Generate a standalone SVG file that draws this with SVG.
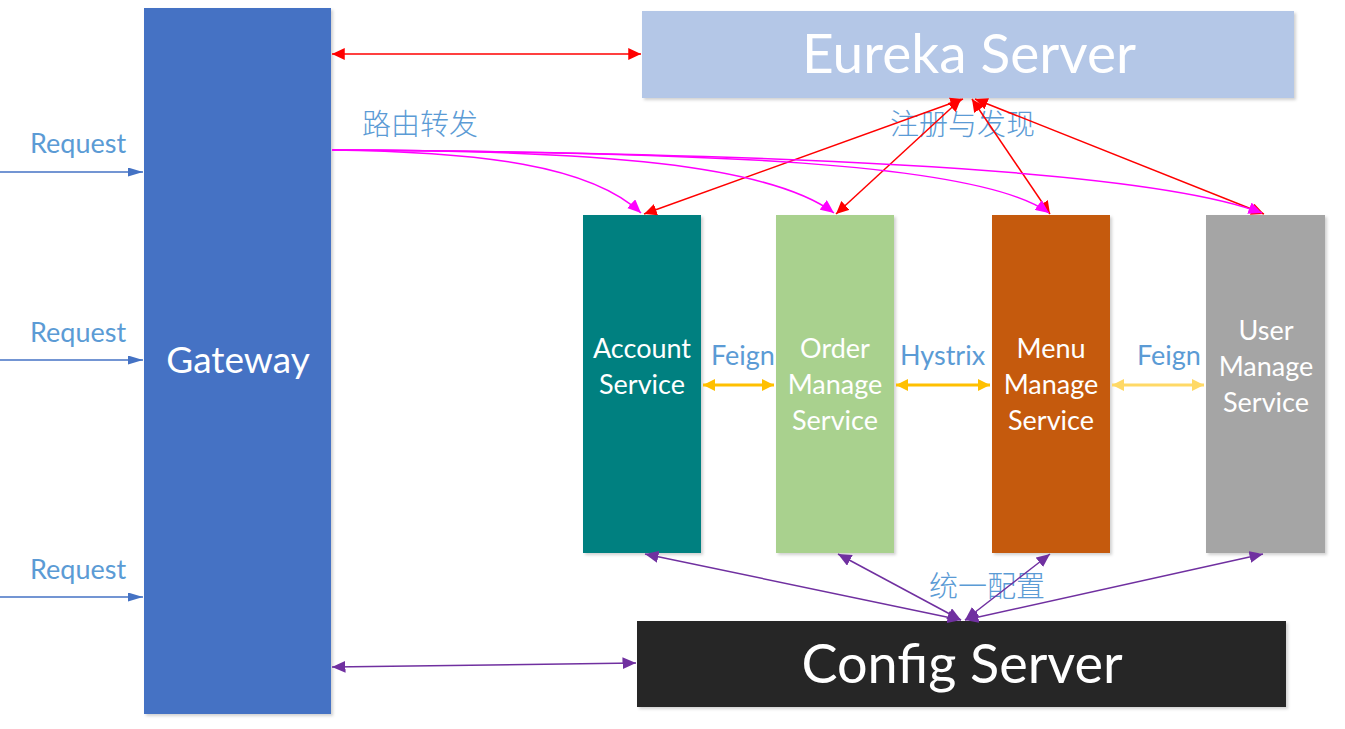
<svg xmlns="http://www.w3.org/2000/svg" width="1345" height="729" viewBox="0 0 1345 729">
<style>
.lbl{font-family:Lato,"Liberation Sans","Noto Sans CJK SC",sans-serif;fill:#5B9BD5;font-size:27px}
.cjk{font-family:"Noto Sans CJK SC",sans-serif;fill:#5B9BD5;font-size:29px;font-weight:300}
.wt{font-family:Lato,"Liberation Sans",sans-serif;fill:#fff;text-anchor:middle}
.svc{font-size:27px}
</style>
<defs>
<filter id="sh" x="-5%" y="-5%" width="115%" height="115%"><feDropShadow dx="2" dy="2" stdDeviation="1.5" flood-color="#000" flood-opacity="0.18"/></filter>
<marker id="ab" viewBox="0 0 10 10" refX="10" refY="5" markerWidth="10" markerHeight="6" preserveAspectRatio="none" orient="auto-start-reverse" markerUnits="strokeWidth"><path d="M0,0L10,5L0,10z" fill="#4472C4"/></marker>
<marker id="ar" viewBox="0 0 10 10" refX="10" refY="5" markerWidth="8.5" markerHeight="8" preserveAspectRatio="none" orient="auto-start-reverse" markerUnits="strokeWidth"><path d="M0,0L10,5L0,10z" fill="#FF0000"/></marker>
<marker id="am" viewBox="0 0 10 10" refX="10" refY="5" markerWidth="9" markerHeight="8" preserveAspectRatio="none" orient="auto-start-reverse" markerUnits="strokeWidth"><path d="M0,0L10,5L0,10z" fill="#FF00FF"/></marker>
<marker id="ap" viewBox="0 0 10 10" refX="10" refY="5" markerWidth="9" markerHeight="8" preserveAspectRatio="none" orient="auto-start-reverse" markerUnits="strokeWidth"><path d="M0,0L10,5L0,10z" fill="#7030A0"/></marker>
<marker id="ay" viewBox="0 0 10 10" refX="10" refY="5" markerWidth="4" markerHeight="4" orient="auto-start-reverse" markerUnits="strokeWidth"><path d="M0,0L10,5L0,10z" fill="#FFC000"/></marker>
<marker id="ay2" viewBox="0 0 10 10" refX="10" refY="5" markerWidth="4" markerHeight="4" orient="auto-start-reverse" markerUnits="strokeWidth"><path d="M0,0L10,5L0,10z" fill="#FFD966"/></marker>
</defs>
<rect width="1345" height="729" fill="#fff"/>

<g id="gateway"><rect x="144" y="8" width="187" height="706" fill="#4472C4" filter="url(#sh)"/><text class="wt" x="238" y="373" font-size="37">Gateway</text></g>
<g id="eureka"><rect x="642" y="11" width="652" height="87" fill="#B4C7E7" filter="url(#sh)"/><text class="wt" x="969" y="73" font-size="55">Eureka Server</text></g>
<g id="config"><rect x="637" y="621" width="649" height="86" fill="#262626" filter="url(#sh)"/><text class="wt" x="962" y="683" font-size="54">Config Server</text></g>
<g id="account"><rect x="583" y="215" width="118" height="338" fill="#008080" filter="url(#sh)"/><text class="wt svc" x="642" y="358">Account</text><text class="wt svc" x="642" y="394">Service</text></g>
<g id="order"><rect x="776" y="215" width="118" height="338" fill="#A9D18E" filter="url(#sh)"/><text class="wt svc" x="835" y="358">Order</text><text class="wt svc" x="835" y="394">Manage</text><text class="wt svc" x="835" y="430">Service</text></g>
<g id="menu"><rect x="992" y="215" width="118" height="338" fill="#C55A11" filter="url(#sh)"/><text class="wt svc" x="1051" y="358">Menu</text><text class="wt svc" x="1051" y="394">Manage</text><text class="wt svc" x="1051" y="430">Service</text></g>
<g id="user"><rect x="1206" y="215" width="119" height="338" fill="#A5A5A5" filter="url(#sh)"/><text class="wt svc" x="1266" y="340">User</text><text class="wt svc" x="1266" y="376">Manage</text><text class="wt svc" x="1266" y="412">Service</text></g>

<g id="labels">
<text class="lbl" x="30" y="153">Request</text>
<text class="lbl" x="30" y="342">Request</text>
<text class="lbl" x="30" y="579">Request</text>
<text class="cjk" x="362" y="135">路由转发</text>
<text class="cjk" x="890" y="135">注册与发现</text>
<text class="cjk" x="929" y="597">统一配置</text>
<text class="lbl" x="711" y="365">Feign</text>
<text class="lbl" x="900" y="365">Hystrix</text>
<text class="lbl" x="1137" y="365">Feign</text>
</g>

<g id="connectors" fill="none">
<g stroke="#4472C4" stroke-width="1.5">
<line x1="0" y1="172" x2="143" y2="172" marker-end="url(#ab)"/>
<line x1="0" y1="360" x2="143" y2="360" marker-end="url(#ab)"/>
<line x1="0" y1="597" x2="143" y2="597" marker-end="url(#ab)"/>
</g>
<g stroke="#FF0000" stroke-width="1.5">
<line x1="332" y1="54" x2="641" y2="54" marker-start="url(#ar)" marker-end="url(#ar)"/>
<line x1="963" y1="99" x2="644" y2="214" marker-start="url(#ar)" marker-end="url(#ar)"/>
<line x1="961" y1="99" x2="836" y2="214" marker-start="url(#ar)" marker-end="url(#ar)"/>
<line x1="972" y1="99" x2="1050" y2="214" marker-start="url(#ar)" marker-end="url(#ar)"/>
<line x1="975" y1="99" x2="1264" y2="214" marker-start="url(#ar)" marker-end="url(#ar)"/>
</g>
<g stroke="#FF00FF" stroke-width="1.5">
<path d="M332,150 C480,152 590,165 641,213" marker-end="url(#am)"/>
<path d="M332,150 C600,150 770,165 834,213" marker-end="url(#am)"/>
<path d="M332,150 C700,152 980,162 1049,213" marker-end="url(#am)"/>
<path d="M332,150 C800,153 1150,170 1262,213" marker-end="url(#am)"/>
</g>
<g stroke="#7030A0" stroke-width="1.5">
<line x1="332" y1="667" x2="636" y2="663" marker-start="url(#ap)" marker-end="url(#ap)"/>
<line x1="961" y1="620" x2="645" y2="554" marker-start="url(#ap)" marker-end="url(#ap)"/>
<line x1="961" y1="620" x2="838" y2="554" marker-start="url(#ap)" marker-end="url(#ap)"/>
<line x1="965" y1="620" x2="1050" y2="554" marker-start="url(#ap)" marker-end="url(#ap)"/>
<line x1="965" y1="620" x2="1263" y2="554" marker-start="url(#ap)" marker-end="url(#ap)"/>
</g>
<line x1="703" y1="385" x2="774" y2="385" stroke="#FFC000" stroke-width="3" marker-start="url(#ay)" marker-end="url(#ay)"/>
<line x1="896" y1="385" x2="990" y2="385" stroke="#FFC000" stroke-width="3" marker-start="url(#ay)" marker-end="url(#ay)"/>
<line x1="1112" y1="385" x2="1204" y2="385" stroke="#FFD966" stroke-width="3" marker-start="url(#ay2)" marker-end="url(#ay2)"/>
</g>
</svg>
